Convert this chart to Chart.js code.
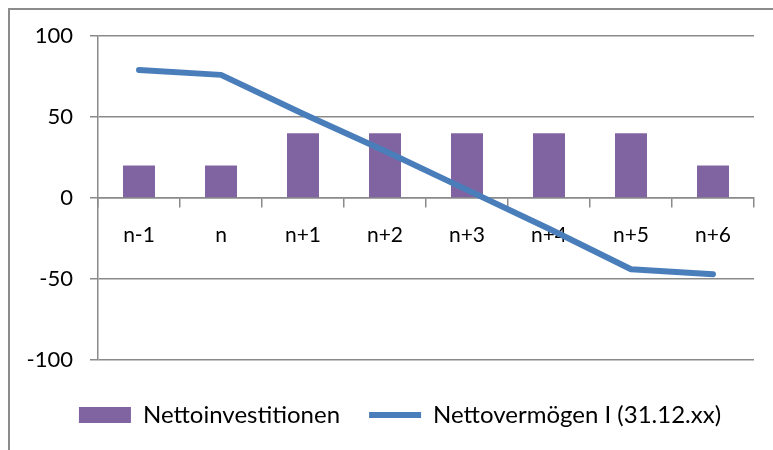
<!DOCTYPE html>
<html>
<head>
<meta charset="utf-8">
<script src="https://cdn.jsdelivr.net/npm/chart.js@4/dist/chart.umd.min.js"></script>
<style>
  html, body { margin: 0; padding: 0; background: #fff; overflow: hidden; }
  #wrap { position: relative; width: 773px; height: 450px; }
  #frame {
    position: absolute; left: 8px; top: 8px; width: 800px; height: 480px;
    border-top: 2px solid #8c8c8c; border-left: 2px solid #8c8c8c;
    box-sizing: border-box; pointer-events: none;
  }
  canvas { position: absolute; left: 0; top: 0; }
</style>
</head>
<body>
<div id="wrap">
  <div id="frame"></div>
  <canvas id="c" width="773" height="450"></canvas>
</div>
<script>
// Categories (years) and the two series
const categories = ['n-1', 'n', 'n+1', 'n+2', 'n+3', 'n+4', 'n+5', 'n+6'];
const nettoinvestitionen = [20, 20, 40, 40, 40, 40, 40, 20];
const nettovermoegen = [79, 76, 52, 29, 5, -19, -44, -47];
const yTicks = [-100, -50, 0, 50, 100];
const seriesNames = ['Nettoinvestitionen', 'Nettovermögen I (31.12.xx)'];

const FONT = 'Lato, "Open Sans", "Liberation Sans", sans-serif';
const GREY = '#8a8a8a';

// The legend is centred on the outer chart frame rather than the canvas.
const legendFrame = {
  id: 'legendFrame',
  afterLayout(chart) {
    if (chart.legend) {
      chart.legend.left = 27;
      chart.legend.right = 773;
    }
  }
};

new Chart(document.getElementById('c'), {
  data: {
    labels: categories,
    datasets: [
      {
        type: 'bar',
        label: seriesNames[0],
        data: nettoinvestitionen,
        backgroundColor: '#8064A2',
        borderWidth: 0,
        categoryPercentage: 1,
        barPercentage: 0.39,
        order: 1
      },
      {
        type: 'line',
        label: seriesNames[1],
        data: nettovermoegen,
        borderColor: '#4A7EBB',
        backgroundColor: '#4A7EBB',
        borderWidth: 6,
        borderCapStyle: 'round',
        borderJoinStyle: 'round',
        pointRadius: 0,
        tension: 0,
        fill: false,
        order: 0
      }
    ]
  },
  plugins: [legendFrame],
  options: {
    responsive: false,
    animation: false,
    events: [],
    layout: { padding: { left: 10, right: 19, top: 36, bottom: 13 } },
    scales: {
      x: {
        type: 'category',
        position: { y: 0 },
        offset: true,
        grid: {
          display: true,
          drawOnChartArea: false,
          drawTicks: true,
          tickLength: 9,
          color: GREY,
          lineWidth: 1.5,
          offset: true
        },
        border: { display: true, color: GREY, width: 1.5 },
        ticks: {
          font: { family: FONT, size: 21 },
          color: '#000',
          padding: 16,
          maxRotation: 0,
          autoSkip: false
        }
      },
      y: {
        min: -100,
        max: 100,
        afterBuildTicks: (scale) => { scale.ticks = yTicks.map(v => ({ value: v })); },
        afterFit: (scale) => { scale.width = 88; },
        grid: {
          color: GREY,
          lineWidth: 1.5,
          tickLength: 8,
          drawTicks: true
        },
        border: { display: true, color: GREY, width: 1.5 },
        ticks: {
          font: { family: FONT, size: 22 },
          color: '#000',
          padding: 17
        }
      }
    },
    plugins: {
      tooltip: { enabled: false },
      legend: {
        position: 'bottom',
        title: { display: true, text: '', font: { size: 10, lineHeight: 1 }, padding: { top: 4, bottom: 0 } },
        labels: {
          font: { family: FONT, size: 24 },
          color: '#000',
          usePointStyle: true,
          pointStyleWidth: 52,
          boxHeight: 16,
          padding: 29,
          sort: (a, b) => a.datasetIndex - b.datasetIndex,
          generateLabels: (chart) => {
            const items = Chart.defaults.plugins.legend.labels.generateLabels(chart);
            items.forEach(it => {
              it.pointStyle = it.datasetIndex === 0 ? 'rect' : 'line';
              if (it.datasetIndex === 0) { it.lineWidth = 0; }
            });
            return items;
          }
        }
      }
    }
  }
});
</script>
</body>
</html>
